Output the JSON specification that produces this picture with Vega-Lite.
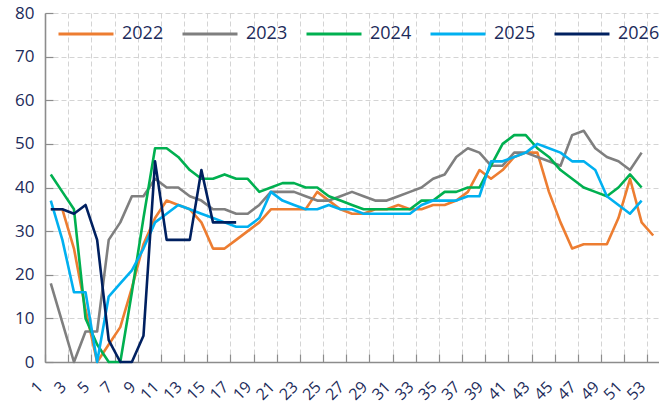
{
 "$schema": "https://vega.github.io/schema/vega-lite/v6.json",
 "width": 614, "height": 349,
 "autosize": {"type": "none"},
 "padding": {"left": 45, "top": 13, "right": 0, "bottom": 45},
 "background": "white",
 "config": {"view": {"stroke": null}, "font": "Open Sans"},
 "data": {"values": [
  {"w":1,"s":"2022","v":35},{"w":2,"s":"2022","v":35},{"w":3,"s":"2022","v":26},{"w":4,"s":"2022","v":12},{"w":5,"s":"2022","v":0},{"w":6,"s":"2022","v":4},{"w":7,"s":"2022","v":8},{"w":8,"s":"2022","v":17},{"w":9,"s":"2022","v":27},{"w":10,"s":"2022","v":33},
  {"w":11,"s":"2022","v":37},{"w":12,"s":"2022","v":36},{"w":13,"s":"2022","v":35},{"w":14,"s":"2022","v":32},{"w":15,"s":"2022","v":26},{"w":16,"s":"2022","v":26},{"w":17,"s":"2022","v":28},{"w":18,"s":"2022","v":30},{"w":19,"s":"2022","v":32},{"w":20,"s":"2022","v":35},
  {"w":21,"s":"2022","v":35},{"w":22,"s":"2022","v":35},{"w":23,"s":"2022","v":35},{"w":24,"s":"2022","v":39},{"w":25,"s":"2022","v":37},{"w":26,"s":"2022","v":35},{"w":27,"s":"2022","v":34},{"w":28,"s":"2022","v":34},{"w":29,"s":"2022","v":35},{"w":30,"s":"2022","v":35},
  {"w":31,"s":"2022","v":36},{"w":32,"s":"2022","v":35},{"w":33,"s":"2022","v":35},{"w":34,"s":"2022","v":36},{"w":35,"s":"2022","v":36},{"w":36,"s":"2022","v":37},{"w":37,"s":"2022","v":39},{"w":38,"s":"2022","v":44},{"w":39,"s":"2022","v":42},{"w":40,"s":"2022","v":44},
  {"w":41,"s":"2022","v":47},{"w":42,"s":"2022","v":48},{"w":43,"s":"2022","v":48},{"w":44,"s":"2022","v":39},{"w":45,"s":"2022","v":32},{"w":46,"s":"2022","v":26},{"w":47,"s":"2022","v":27},{"w":48,"s":"2022","v":27},{"w":49,"s":"2022","v":27},{"w":50,"s":"2022","v":33},
  {"w":51,"s":"2022","v":42},{"w":52,"s":"2022","v":32},{"w":53,"s":"2022","v":29},

  {"w":1,"s":"2023","v":18},{"w":2,"s":"2023","v":9},{"w":3,"s":"2023","v":0},{"w":4,"s":"2023","v":7},{"w":5,"s":"2023","v":7},{"w":6,"s":"2023","v":28},{"w":7,"s":"2023","v":32},{"w":8,"s":"2023","v":38},{"w":9,"s":"2023","v":38},{"w":10,"s":"2023","v":42},
  {"w":11,"s":"2023","v":40},{"w":12,"s":"2023","v":40},{"w":13,"s":"2023","v":38},{"w":14,"s":"2023","v":37},{"w":15,"s":"2023","v":35},{"w":16,"s":"2023","v":35},{"w":17,"s":"2023","v":34},{"w":18,"s":"2023","v":34},{"w":19,"s":"2023","v":36},{"w":20,"s":"2023","v":39},
  {"w":21,"s":"2023","v":39},{"w":22,"s":"2023","v":39},{"w":23,"s":"2023","v":38},{"w":24,"s":"2023","v":37},{"w":25,"s":"2023","v":37},{"w":26,"s":"2023","v":38},{"w":27,"s":"2023","v":39},{"w":28,"s":"2023","v":38},{"w":29,"s":"2023","v":37},{"w":30,"s":"2023","v":37},
  {"w":31,"s":"2023","v":38},{"w":32,"s":"2023","v":39},{"w":33,"s":"2023","v":40},{"w":34,"s":"2023","v":42},{"w":35,"s":"2023","v":43},{"w":36,"s":"2023","v":47},{"w":37,"s":"2023","v":49},{"w":38,"s":"2023","v":48},{"w":39,"s":"2023","v":45},{"w":40,"s":"2023","v":45},
  {"w":41,"s":"2023","v":48},{"w":42,"s":"2023","v":48},{"w":43,"s":"2023","v":47},{"w":44,"s":"2023","v":46},{"w":45,"s":"2023","v":45},{"w":46,"s":"2023","v":52},{"w":47,"s":"2023","v":53},{"w":48,"s":"2023","v":49},{"w":49,"s":"2023","v":47},{"w":50,"s":"2023","v":46},
  {"w":51,"s":"2023","v":44},{"w":52,"s":"2023","v":48},

  {"w":1,"s":"2024","v":43},{"w":2,"s":"2024","v":39},{"w":3,"s":"2024","v":35},{"w":4,"s":"2024","v":10},{"w":5,"s":"2024","v":4},{"w":6,"s":"2024","v":0},{"w":7,"s":"2024","v":0},{"w":8,"s":"2024","v":16},{"w":9,"s":"2024","v":33},{"w":10,"s":"2024","v":49},
  {"w":11,"s":"2024","v":49},{"w":12,"s":"2024","v":47},{"w":13,"s":"2024","v":44},{"w":14,"s":"2024","v":42},{"w":15,"s":"2024","v":42},{"w":16,"s":"2024","v":43},{"w":17,"s":"2024","v":42},{"w":18,"s":"2024","v":42},{"w":19,"s":"2024","v":39},{"w":20,"s":"2024","v":40},
  {"w":21,"s":"2024","v":41},{"w":22,"s":"2024","v":41},{"w":23,"s":"2024","v":40},{"w":24,"s":"2024","v":40},{"w":25,"s":"2024","v":38},{"w":26,"s":"2024","v":37},{"w":27,"s":"2024","v":36},{"w":28,"s":"2024","v":35},{"w":29,"s":"2024","v":35},{"w":30,"s":"2024","v":35},
  {"w":31,"s":"2024","v":35},{"w":32,"s":"2024","v":35},{"w":33,"s":"2024","v":37},{"w":34,"s":"2024","v":37},{"w":35,"s":"2024","v":39},{"w":36,"s":"2024","v":39},{"w":37,"s":"2024","v":40},{"w":38,"s":"2024","v":40},{"w":39,"s":"2024","v":45},{"w":40,"s":"2024","v":50},
  {"w":41,"s":"2024","v":52},{"w":42,"s":"2024","v":52},{"w":43,"s":"2024","v":49},{"w":44,"s":"2024","v":47},{"w":45,"s":"2024","v":44},{"w":46,"s":"2024","v":42},{"w":47,"s":"2024","v":40},{"w":48,"s":"2024","v":39},{"w":49,"s":"2024","v":38},{"w":50,"s":"2024","v":40},
  {"w":51,"s":"2024","v":43},{"w":52,"s":"2024","v":40},

  {"w":1,"s":"2025","v":37},{"w":2,"s":"2025","v":28},{"w":3,"s":"2025","v":16},{"w":4,"s":"2025","v":16},{"w":5,"s":"2025","v":0},{"w":6,"s":"2025","v":15},{"w":7,"s":"2025","v":18},{"w":8,"s":"2025","v":21},{"w":9,"s":"2025","v":26},{"w":10,"s":"2025","v":32},
  {"w":11,"s":"2025","v":34},{"w":12,"s":"2025","v":36},{"w":13,"s":"2025","v":35},{"w":14,"s":"2025","v":34},{"w":15,"s":"2025","v":33},{"w":16,"s":"2025","v":32},{"w":17,"s":"2025","v":31},{"w":18,"s":"2025","v":31},{"w":19,"s":"2025","v":33},{"w":20,"s":"2025","v":39},
  {"w":21,"s":"2025","v":37},{"w":22,"s":"2025","v":36},{"w":23,"s":"2025","v":35},{"w":24,"s":"2025","v":35},{"w":25,"s":"2025","v":36},{"w":26,"s":"2025","v":35},{"w":27,"s":"2025","v":35},{"w":28,"s":"2025","v":34},{"w":29,"s":"2025","v":34},{"w":30,"s":"2025","v":34},
  {"w":31,"s":"2025","v":34},{"w":32,"s":"2025","v":34},{"w":33,"s":"2025","v":36},{"w":34,"s":"2025","v":37},{"w":35,"s":"2025","v":37},{"w":36,"s":"2025","v":37},{"w":37,"s":"2025","v":38},{"w":38,"s":"2025","v":38},{"w":39,"s":"2025","v":46},{"w":40,"s":"2025","v":46},
  {"w":41,"s":"2025","v":47},{"w":42,"s":"2025","v":48},{"w":43,"s":"2025","v":50},{"w":44,"s":"2025","v":49},{"w":45,"s":"2025","v":48},{"w":46,"s":"2025","v":46},{"w":47,"s":"2025","v":46},{"w":48,"s":"2025","v":44},{"w":49,"s":"2025","v":38},{"w":50,"s":"2025","v":36},
  {"w":51,"s":"2025","v":34},{"w":52,"s":"2025","v":37},

  {"w":1,"s":"2026","v":35},{"w":2,"s":"2026","v":35},{"w":3,"s":"2026","v":34},{"w":4,"s":"2026","v":36},{"w":5,"s":"2026","v":28},{"w":6,"s":"2026","v":5},{"w":7,"s":"2026","v":0},{"w":8,"s":"2026","v":0},{"w":9,"s":"2026","v":6},{"w":10,"s":"2026","v":46},
  {"w":11,"s":"2026","v":28},{"w":12,"s":"2026","v":28},{"w":13,"s":"2026","v":28},{"w":14,"s":"2026","v":44},{"w":15,"s":"2026","v":32},{"w":16,"s":"2026","v":32},{"w":17,"s":"2026","v":32}
 ]},
 "mark": {"type": "line", "strokeWidth": 2.6, "strokeJoin": "round"},
 "encoding": {
  "x": {"field": "w", "type": "quantitative",
   "scale": {"domain": [0.5, 53.5], "nice": false, "zero": false},
   "axis": {"values": [0.5,2.5,4.5,6.5,8.5,10.5,12.5,14.5,16.5,18.5,20.5,22.5,24.5,26.5,28.5,30.5,32.5,34.5,36.5,38.5,40.5,42.5,44.5,46.5,48.5,50.5,52.5],
    "title": null, "labelExpr": "datum.value + 0.5", "labelAngle": -45, "labelAlign": "right", "labelBaseline": "middle",
    "labelPadding": 30, "labelOffset": -5, "labelFontSize": 16, "labelColor": "#1c2b5a", "labelOverlap": false, "labelFlush": false,
    "grid": true, "gridDash": [5,3], "gridColor": "#d4d4d4", "gridWidth": 1,
    "tickSize": -8, "tickColor": "#8c8c8c", "tickWidth": 1.2, "domainColor": "#8c8c8c", "domainWidth": 1.6}},
  "y": {"field": "v", "type": "quantitative",
   "scale": {"domain": [0, 80], "nice": false},
   "axis": {"values": [0,10,20,30,40,50,60,70,80], "title": null,
    "grid": true, "gridDash": [5,3], "gridColor": "#d4d4d4", "gridWidth": 1,
    "tickSize": -8, "tickColor": "#8c8c8c", "tickWidth": 1.2, "labelPadding": 19, "labelFontSize": 17, "labelColor": "#1c2b5a",
    "domainColor": "#8c8c8c", "domainWidth": 1.6}},
  "color": {"field": "s", "type": "nominal",
   "scale": {"domain": ["2022","2023","2024","2025","2026"], "range": ["#ED7D31","#7F7F7F","#00B050","#00B0F0","#002060"]},
   "legend": {"orient": "none", "legendX": 12, "legendY": -8, "direction": "horizontal", "title": null,
    "symbolType": "stroke", "symbolSize": 3025, "symbolStrokeWidth": 3, "labelFontSize": 18, "labelColor": "#1c2b5a",
    "labelOffset": 7, "columnPadding": 12, "padding": 0}}
 }
}
